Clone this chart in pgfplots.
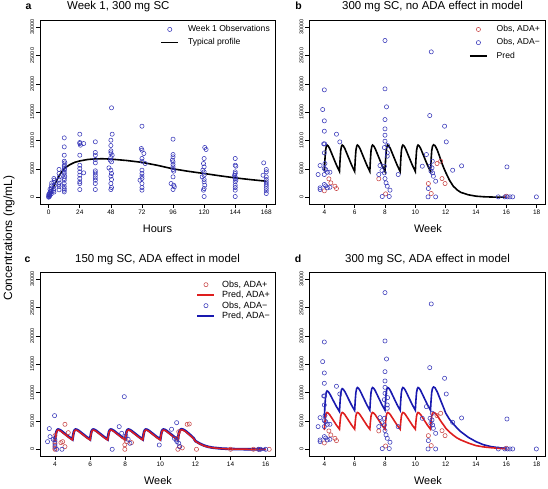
\documentclass[border=0pt]{standalone}
\usepackage{fontspec}
\setmainfont{Liberation Sans}
\usepackage{pgfplots}
\usepackage{pgfplotstable}
\pgfplotsset{compat=1.18}
\definecolor{obsblue}{RGB}{55,55,185}
\definecolor{obsred}{RGB}{200,70,70}
\definecolor{predred}{RGB}{222,30,30}
\definecolor{predblue}{RGB}{25,25,175}

% ---------- panel a: week 1 observations ----------
\pgfplotstableread{
x y
0 0
0 100
0.3 250
0 400
0.5 150
0.3 600
1 300
1 700
1.2 1000
1 1400
0.8 500
2 600
2 1100
2.2 1600
2 2000
2.3 2500
1.8 900
4 900
4 1500
4.2 2100
4 2600
4.3 3000
4 3300
3.8 1200
8 1300
8 1900
8.2 2500
8 3100
8.3 3600
8 4200
8 4900
7.8 2200
12 10470
12 8880
12 7410
12 6350
12.5 6060
12 5650
12 5350
12.3 5060
12 4770
12 4470
12 4180
12.4 3710
12 3300
12 3000
12 2410
12 1940
12 1530
12 1240
12 940
24 11120
24 9650
24 9470
27 9470
24.5 9180
24 7410
24 5650
24 5060
24 4470
27 4300
24 3880
24 3300
24 2710
24 2410
24 1350
36 9770
36 7890
36 7410
36 6650
36 6060
36 4650
36 4300
36 3880
36 3410
36 3000
36 2410
36 1350
48.5 15770
49 11120
48 10060
48 9120
48 8180
48 7830
49 7410
48 7000
47.5 6530
48.5 6240
46.5 5180
48 4770
48.5 4180
48 3710
48.5 3120
48 2410
48.5 1710
48 1350
72 12530
71.5 8590
72 8300
73.5 7710
72 6830
72 6350
74.5 5940
72 4770
72 4180
72 3710
72 3300
70.5 3000
72 2410
72 1710
72 1240
96 10240
96 7530
96 7120
95.5 6530
96 6240
96 5770
96 5350
96 4880
96.5 4590
96 3590
94.5 2410
96.5 2120
97 1830
96 1360
120.5 8770
121.5 8420
120 6830
119.5 5940
120 5350
119 4770
120 4470
120 3880
118.5 3590
120 3120
120 2710
120.5 2120
120 1530
119.5 1240
120 120
144 6830
144 5650
144.5 5470
144 4470
144 4180
143.5 3880
144 3590
144 3300
144.5 3000
144 2710
144 2120
144 1710
144 1240
144 120
166 6060
168 4880
168 4470
165.5 3880
168 3590
168 3120
168 2710
168 2300
168 1940
168 1530
168 1120
168 650
}\obsA

\pgfplotstableread{
x y
0 0
1 450
2 950
3 1450
4 1950
6 2900
8 3750
10 4450
12 5050
16 5700
20 6150
24 6400
30 6650
36 6770
42 6780
48 6720
60 6480
72 6150
84 5620
96 5000
108 4560
120 4180
132 3780
144 3410
156 3100
168 2820
}\predA

% ---------- panels b and d: observations ----------
\pgfplotstableread{
x y
4.00 1120
4.30 3240
4.43 2530
4.70 1940
4.80 1530
7.59 3240
8.04 590
11.43 5940
11.67 6350
10.86 2410
11.76 3290
11.96 2410
11.05 650
16.00 180
}\obsBred

\pgfplotstableread{
x y
4.00 18940
3.89 15470
4.00 13470
4.00 11650
3.96 9410
4.02 9410
4.00 7820
3.72 5590
4.04 5940
4.00 5060
4.09 4880
4.20 4410
4.37 4410
3.59 4000
4.00 4000
4.80 11120
5.02 9760
3.72 1650
3.72 1350
4.09 2000
4.20 1650
4.37 1760
4.00 2240
8.00 27650
8.00 19120
8.10 15940
8.00 13700
8.00 12060
8.00 10940
8.00 9880
7.96 8760
8.17 9120
8.15 7820
8.15 7240
7.67 5590
7.59 4000
7.80 4700
7.96 5470
7.96 4290
8.00 3290
8.07 2530
8.15 1940
7.82 120
8.28 120
8.33 1240
8.87 4000
10.46 5470
11.05 25650
10.95 14410
11.93 12530
12.04 9760
10.73 7530
11.12 6350
10.97 5470
11.10 5180
11.03 4590
11.14 4290
11.19 3700
11.34 2820
10.86 1530
10.84 60
11.34 60
12.46 4760
13.05 5530
16.04 5350
16.07 60
16.24 60
16.42 60
15.47 60
15.90 60
17.98 60
}\obsBblue

% ---------- panel c: observations ----------
\pgfplotstableread{
x y
4.57 4410
4.76 2940
4.34 1180
4.44 1350
4.57 470
4.00 0
4.00 180
4.00 760
4.00 1350
4.00 2400
8.08 1350
8.36 1180
7.98 0
7.98 800
8.00 1900
11.53 4410
11.65 4470
11.00 0
11.10 500
11.25 250
10.96 1940
11.05 3100
12.06 0
14.00 0
15.30 0
15.60 0
16.20 0
}\obsCred

\pgfplotstableread{
x y
7.95 9290
3.98 5940
3.68 3650
3.58 1350
3.72 2240
3.90 1760
4.00 1650
4.00 1060
4.00 470
4.10 0
4.40 0
7.66 4000
7.80 2820
8.04 2350
8.17 1760
8.27 1060
7.26 0
9.94 760
10.93 4700
10.64 3530
10.80 1940
10.90 1650
10.95 1350
11.05 1060
11.10 470
15.60 0
15.70 0
16.00 0
}\obsCblue

\pgfplotsset{
  rax/.style={
    scale only axis, anchor=south west,
    axis line style={line width=0.8bp, black},
    tick align=outside, xtick pos=left, ytick pos=left,
    major tick length=4bp,
    tick style={black, line width=0.6bp},
    ymin=-1200, ymax=31200, height=183.6bp,
    ytick={0,5000,10000,15000,20000,25000,30000},
    scaled ticks=false,
    /pgf/number format/1000 sep={},
    /pgf/number format/assume math mode=true,
    yticklabel style={rotate=90, anchor=south, font=\fontsize{5.5}{6}\selectfont, inner sep=1.5bp},
    xticklabel style={font=\fontsize{6.5}{7}\selectfont, inner sep=1.5bp},
    legend cell align=left,
    legend image code/.code={\draw[mark repeat=2,mark phase=2,##1] plot coordinates {(0bp,0bp) (8.5bp,0bp) (17bp,0bp)};},
  },
  obs/.style={only marks, mark=o, mark size=2.1bp, mark options={solid, line width=0.55bp}, color=#1},
  leg/.style={legend style={draw=none, fill=none, at={(1,1)}, anchor=north east, xshift=-3bp, yshift=-3bp,
    font=\fontsize{8.6}{9}\selectfont, row sep=1.5bp, column sep=7bp, inner sep=0pt}},
}

\begin{document}
\begin{tikzpicture}
\useasboundingbox (0,0) rectangle (548bp,489bp);

% ===== panel a =====
\begin{axis}[rax, leg, at={(40bp,285bp)}, width=235bp,
  xmin=-6.72, xmax=174.72, xtick={0,24,...,168}]
\addplot[obs=obsblue] table {\obsA};
\addlegendentry{Week 1 Observations}
\addplot[black, line width=1.6bp] table {\predA};
\addlegendentry{Typical profile}
\end{axis}

% ===== panel b =====
\begin{axis}[rax, leg, at={(309bp,285bp)}, width=236bp,
  xmin=2.99, xmax=18.55, xtick={4,6,...,18}]
\addplot[obs=obsred] table {\obsBred};
\addlegendentry{Obs, ADA+}
\addplot[obs=obsblue] table {\obsBblue};
\addlegendentry{Obs, ADA−}
\addplot[black, line width=1.6bp] coordinates {
(4,4550)(4.04,6640)(4.08,8180)(4.13,8970)(4.18,9200)(4.25,9060)(4.35,8600)(4.5,7620)(4.65,6640)(4.8,5670)
(5,4550)(5.04,6640)(5.08,8180)(5.13,8970)(5.18,9200)(5.25,9060)(5.35,8600)(5.5,7620)(5.65,6640)(5.8,5670)
(6,4550)(6.04,6640)(6.08,8180)(6.13,8970)(6.18,9200)(6.25,9060)(6.35,8600)(6.5,7620)(6.65,6640)(6.8,5670)
(7,4550)(7.04,6640)(7.08,8180)(7.13,8970)(7.18,9200)(7.25,9060)(7.35,8600)(7.5,7620)(7.65,6640)(7.8,5670)
(8,4550)(8.04,6640)(8.08,8180)(8.13,8970)(8.18,9200)(8.25,9060)(8.35,8600)(8.5,7620)(8.65,6640)(8.8,5670)
(9,4550)(9.04,6640)(9.08,8180)(9.13,8970)(9.18,9200)(9.25,9060)(9.35,8600)(9.5,7620)(9.65,6640)(9.8,5670)
(10,4550)(10.04,6640)(10.08,8180)(10.13,8970)(10.18,9200)(10.25,9060)(10.35,8600)(10.5,7620)(10.65,6640)(10.8,5670)
(11,4550)(11.04,6640)(11.08,8180)(11.13,8970)(11.2,9250)(11.3,9100)(11.45,8300)(11.6,7200)(11.75,6000)(11.9,5000)
(12,4400)(12.25,3000)(12.5,1950)(12.75,1300)(13,850)(13.5,420)(14,180)(14.5,80)(15,30)(15.5,10)(16,0)};
\addlegendentry{Pred}
\end{axis}

% ===== panel c =====
\begin{axis}[rax, at={(40bp,32.9bp)}, width=235bp,
  xmin=3.15, xmax=16.53, xtick={4,6,...,16},
  legend style={draw=none, fill=none, at={(1,1)}, anchor=north east, xshift=-3bp, yshift=-6bp,
    font=\fontsize{9}{9}\selectfont, row sep=-1.5bp, column sep=5bp, inner sep=0pt}]
\addplot[obs=obsred] table {\obsCred};
\addlegendentry{Obs, ADA+}
\addplot[predblue, line width=2.6bp, forget plot] coordinates {
(4,1500)(4.04,2400)(4.08,3060)(4.13,3400)(4.18,3500)(4.25,3450)(4.35,3270)(4.5,2900)(4.65,2540)(4.8,2170)
(5,1750)(5.04,2540)(5.08,3120)(5.13,3410)(5.18,3500)(5.25,3450)(5.35,3270)(5.5,2900)(5.65,2540)(5.8,2170)
(6,1750)(6.04,2540)(6.08,3120)(6.13,3410)(6.18,3500)(6.25,3450)(6.35,3270)(6.5,2900)(6.65,2540)(6.8,2170)
(7,1750)(7.04,2540)(7.08,3120)(7.13,3410)(7.18,3500)(7.25,3450)(7.35,3270)(7.5,2900)(7.65,2540)(7.8,2170)
(8,1750)(8.04,2540)(8.08,3120)(8.13,3410)(8.18,3500)(8.25,3450)(8.35,3270)(8.5,2900)(8.65,2540)(8.8,2170)
(9,1750)(9.04,2540)(9.08,3120)(9.13,3410)(9.18,3500)(9.25,3450)(9.35,3270)(9.5,2900)(9.65,2540)(9.8,2170)
(10,1750)(10.04,2540)(10.08,3120)(10.13,3410)(10.18,3500)(10.25,3450)(10.35,3270)(10.5,2900)(10.65,2540)(10.8,2170)
(11,1750)(11.04,2540)(11.08,3120)(11.13,3410)(11.2,3550)(11.3,3480)(11.45,3200)(11.6,2800)(11.75,2400)(11.9,1950)
(12,1450)(12.25,1000)(12.5,650)(12.75,420)(13,280)(13.5,130)(14,60)(14.5,25)(15,10)(16,0)};
\addplot[predred, line width=1.5bp] coordinates {
(4,1400)(4.04,2300)(4.08,2960)(4.13,3300)(4.18,3400)(4.25,3350)(4.35,3170)(4.5,2800)(4.65,2440)(4.8,2070)
(5,1650)(5.04,2440)(5.08,3020)(5.13,3310)(5.18,3400)(5.25,3350)(5.35,3170)(5.5,2800)(5.65,2440)(5.8,2070)
(6,1650)(6.04,2440)(6.08,3020)(6.13,3310)(6.18,3400)(6.25,3350)(6.35,3170)(6.5,2800)(6.65,2440)(6.8,2070)
(7,1650)(7.04,2440)(7.08,3020)(7.13,3310)(7.18,3400)(7.25,3350)(7.35,3170)(7.5,2800)(7.65,2440)(7.8,2070)
(8,1650)(8.04,2440)(8.08,3020)(8.13,3310)(8.18,3400)(8.25,3350)(8.35,3170)(8.5,2800)(8.65,2440)(8.8,2070)
(9,1650)(9.04,2440)(9.08,3020)(9.13,3310)(9.18,3400)(9.25,3350)(9.35,3170)(9.5,2800)(9.65,2440)(9.8,2070)
(10,1650)(10.04,2440)(10.08,3020)(10.13,3310)(10.18,3400)(10.25,3350)(10.35,3170)(10.5,2800)(10.65,2440)(10.8,2070)
(11,1650)(11.04,2440)(11.08,3020)(11.13,3310)(11.2,3450)(11.3,3380)(11.45,3100)(11.6,2700)(11.75,2300)(11.9,1850)
(12,1400)(12.25,950)(12.5,600)(12.75,390)(13,260)(13.5,120)(14,50)(14.5,20)(15,8)(16,0)};
\addlegendentry{Pred, ADA+}
\addplot[obs=obsblue] table {\obsCblue};
\addlegendentry{Obs, ADA−}
\addlegendimage{predblue, line width=1.5bp}
\addlegendentry{Pred, ADA−}
\end{axis}

% ===== panel d =====
\begin{axis}[rax, at={(309bp,32.9bp)}, width=236bp,
  xmin=2.99, xmax=18.55, xtick={4,6,...,18}]
\addplot[obs=obsred] table {\obsBred};
\addplot[obs=obsblue] table {\obsBblue};
\addplot[predblue, line width=1.6bp] coordinates {
(4,5500)(4.04,7660)(4.08,9240)(4.13,10060)(4.18,10300)(4.25,10190)(4.35,9830)(4.5,9060)(4.65,8290)(4.8,7530)
(5,6650)(5.04,8470)(5.08,9810)(5.13,10500)(5.18,10700)(5.25,10580)(5.35,10200)(5.5,9390)(5.65,8580)(5.8,7770)
(6,6850)(6.04,8670)(6.08,10010)(6.13,10700)(6.18,10900)(6.25,10780)(6.35,10380)(6.5,9540)(6.65,8700)(6.8,7860)
(7,6900)(7.04,8700)(7.08,10020)(7.13,10700)(7.18,10900)(7.25,10780)(7.35,10380)(7.5,9540)(7.65,8700)(7.8,7860)
(8,6900)(8.04,8700)(8.08,10020)(8.13,10700)(8.18,10900)(8.25,10780)(8.35,10380)(8.5,9540)(8.65,8700)(8.8,7860)
(9,6900)(9.04,8700)(9.08,10020)(9.13,10700)(9.18,10900)(9.25,10780)(9.35,10380)(9.5,9540)(9.65,8700)(9.8,7860)
(10,6900)(10.04,8700)(10.08,10020)(10.13,10700)(10.18,10900)(10.25,10780)(10.35,10380)(10.5,9540)(10.65,8700)(10.8,7860)
(11,6900)(11.04,8700)(11.08,10020)(11.13,10750)(11.2,11000)(11.3,10850)(11.45,10100)(11.6,9100)(11.75,8100)(11.9,7100)
(12,6400)(12.25,5300)(12.5,4500)(12.75,3750)(13,3100)(13.5,2100)(14,1350)(14.5,800)(15,470)(15.5,280)(16,150)};
\addplot[predred, line width=1.6bp] coordinates {
(4,3400)(4.04,4800)(4.08,5820)(4.13,6350)(4.18,6500)(4.25,6410)(4.35,6120)(4.5,5500)(4.65,4880)(4.8,4260)
(5,3550)(5.04,4880)(5.08,5850)(5.13,6350)(5.18,6500)(5.25,6410)(5.35,6120)(5.5,5500)(5.65,4880)(5.8,4260)
(6,3550)(6.04,4880)(6.08,5850)(6.13,6350)(6.18,6500)(6.25,6410)(6.35,6120)(6.5,5500)(6.65,4880)(6.8,4260)
(7,3550)(7.04,4880)(7.08,5850)(7.13,6350)(7.18,6500)(7.25,6410)(7.35,6120)(7.5,5500)(7.65,4880)(7.8,4260)
(8,3550)(8.04,4880)(8.08,5850)(8.13,6350)(8.18,6500)(8.25,6410)(8.35,6120)(8.5,5500)(8.65,4880)(8.8,4260)
(9,3550)(9.04,4880)(9.08,5850)(9.13,6350)(9.18,6500)(9.25,6410)(9.35,6120)(9.5,5500)(9.65,4880)(9.8,4260)
(10,3550)(10.04,4880)(10.08,5850)(10.13,6350)(10.18,6500)(10.25,6410)(10.35,6120)(10.5,5500)(10.65,4880)(10.8,4260)
(11,3550)(11.04,4880)(11.08,5850)(11.13,6350)(11.2,6500)(11.3,6400)(11.45,5950)(11.6,5300)(11.75,4700)(11.9,4150)
(12,3750)(12.25,3050)(12.5,2500)(12.75,2000)(13,1650)(13.5,1100)(14,650)(14.5,420)(15,280)(15.5,170)(16,100)};
\end{axis}

% ===== titles and labels =====
\node[anchor=base, font=\fontsize{10.5}{12}\bfseries] at (28.5bp,479bp) {a};
\node[anchor=base, font=\fontsize{11.5}{13}\selectfont] at (118.3bp,479bp) {Week 1, 300 mg SC};
\node[anchor=base, font=\fontsize{10.5}{12}\bfseries] at (298.5bp,479bp) {b};
\node[anchor=base, font=\fontsize{11.5}{13}\selectfont] at (432.5bp,479bp) {300 mg SC, no ADA effect in model};
\node[anchor=base, font=\fontsize{10.5}{12}\bfseries] at (27.5bp,226bp) {c};
\node[anchor=base, font=\fontsize{11.5}{13}\selectfont] at (157.5bp,226bp) {150 mg SC, ADA effect in model};
\node[anchor=base, font=\fontsize{10.5}{12}\bfseries] at (298bp,226bp) {d};
\node[anchor=base, font=\fontsize{11.5}{13}\selectfont] at (427.5bp,226bp) {300 mg SC, ADA effect in model};
\node[anchor=base, font=\fontsize{11}{13}\selectfont] at (157.5bp,256.5bp) {Hours};
\node[anchor=base, font=\fontsize{11}{13}\selectfont] at (428bp,256.5bp) {Week};
\node[anchor=base, font=\fontsize{11}{13}\selectfont] at (158bp,4.5bp) {Week};
\node[anchor=base, font=\fontsize{11}{13}\selectfont] at (428bp,4.5bp) {Week};
\node[rotate=90, font=\fontsize{12}{14}\selectfont] at (9bp,251bp) {Concentrations (ng/mL)};
\end{tikzpicture}
\end{document}
